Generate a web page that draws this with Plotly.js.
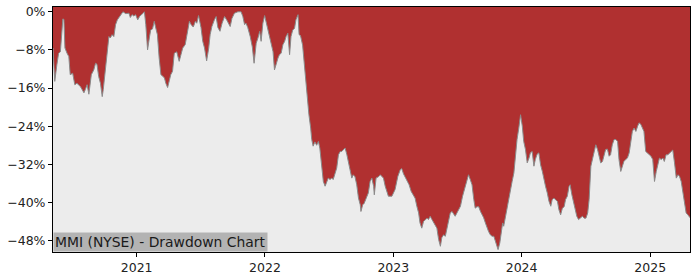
<!DOCTYPE html>
<html>
<head>
<meta charset="utf-8">
<script src="https://cdn.plot.ly/plotly-3.0.1.min.js"></script>
<style>html,body{margin:0;padding:0;background:#fff;}#chart{width:700px;height:280px;}</style>
</head>
<body>
<div id="chart"></div>
<script>
// Drawdown (%) of MMI (NYSE)
const dates2020 = ["2020-05-08","2020-05-13","2020-05-19","2020-05-24","2020-05-29","2020-06-03","2020-06-05","2020-06-08","2020-06-11","2020-06-17","2020-06-22","2020-06-26","2020-07-03","2020-07-09","2020-07-15","2020-07-25","2020-08-04","2020-08-08","2020-08-13","2020-08-18","2020-08-25","2020-09-01","2020-09-06","2020-09-10","2020-09-15","2020-09-20","2020-09-25","2020-09-28","2020-10-02","2020-10-09","2020-10-14","2020-10-18","2020-10-23","2020-10-28","2020-11-02","2020-11-07","2020-11-16","2020-11-23","2020-12-01","2020-12-10","2020-12-14","2020-12-19","2020-12-24","2020-12-29"];
const dd2020 = [-7.6,-14.6,-11.1,-8.7,-8.4,-4.1,-1.5,-1.6,-7.6,-8.7,-9.4,-13.2,-12.9,-15.3,-15.0,-15.7,-17.0,-16.3,-15.3,-17.3,-13.2,-12.2,-10.8,-11.0,-13.6,-15.0,-17.8,-16.3,-13.6,-8.4,-5.2,-5.5,-4.8,-5.2,-2.7,-1.7,-0.6,0,-0.4,-0.3,-1.2,-0.6,-0.9,-0.6];

const dates2021 = ["2021-01-04","2021-01-10","2021-01-18","2021-01-23","2021-01-27","2021-02-01","2021-02-06","2021-02-10","2021-02-15","2021-02-20","2021-02-25","2021-03-01","2021-03-06","2021-03-11","2021-03-16","2021-03-21","2021-03-25","2021-03-30","2021-04-04","2021-04-08","2021-04-13","2021-04-18","2021-04-25","2021-05-02","2021-05-07","2021-05-12","2021-05-19","2021-05-26","2021-05-31","2021-06-05","2021-06-11","2021-06-17","2021-06-21","2021-06-26","2021-07-03","2021-07-08","2021-07-13","2021-07-19","2021-07-25","2021-07-29","2021-08-03","2021-08-10","2021-08-15","2021-08-20","2021-08-26","2021-09-01","2021-09-08","2021-09-14","2021-09-20","2021-09-24","2021-09-29","2021-10-06","2021-10-16","2021-10-25","2021-10-30","2021-11-04","2021-11-08","2021-11-13","2021-11-20","2021-11-26","2021-12-01","2021-12-07","2021-12-12","2021-12-17","2021-12-21","2021-12-26","2021-12-31"];
const dd2021 = [-1.7,-0.9,-0.4,0,-2.7,-8.0,-5.5,-3.8,-3.6,-2.0,-3.6,-4.8,-9.7,-13.2,-13.5,-13.9,-15.0,-15.9,-14.4,-13.2,-12.5,-8.7,-8.4,-10.4,-9.0,-7.6,-6.9,-3.8,-2.0,-2.7,-3.2,-2.0,-2.4,-0.8,-3.3,-6.2,-7.6,-10.3,-7.6,-4.8,-3.1,-1.7,-1.0,-3.3,-4.1,-2.4,-1.0,-1.7,-2.4,-3.1,-1.4,-0.3,0,0,-1.0,-2.7,-2.4,-3.3,-5.2,-7.4,-10.8,-6.6,-5.5,-4.1,-6.2,-2.4,-0.8];

const dates2022 = ["2022-01-04","2022-01-09","2022-01-14","2022-01-19","2022-01-24","2022-01-28","2022-02-02","2022-02-07","2022-02-11","2022-02-16","2022-02-21","2022-02-26","2022-03-02","2022-03-07","2022-03-12","2022-03-16","2022-03-21","2022-03-26","2022-03-30","2022-04-05","2022-04-08","2022-04-12","2022-04-18","2022-04-22","2022-04-26","2022-05-01","2022-05-06","2022-05-11","2022-05-14","2022-05-18","2022-05-23","2022-05-28","2022-06-02","2022-06-06","2022-06-11","2022-06-16","2022-06-21","2022-06-26","2022-06-30","2022-07-05","2022-07-10","2022-07-14","2022-07-19","2022-07-24","2022-07-29","2022-08-03","2022-08-07","2022-08-12","2022-08-17","2022-08-22","2022-08-26","2022-08-31","2022-09-05","2022-09-09","2022-09-14","2022-09-19","2022-09-24","2022-09-29","2022-10-01","2022-10-06","2022-10-10","2022-10-16","2022-10-22","2022-10-27","2022-11-01","2022-11-06","2022-11-08","2022-11-13","2022-11-20","2022-11-25","2022-11-30","2022-12-04","2022-12-09","2022-12-14","2022-12-18","2022-12-23","2022-12-28"];
const dd2022 = [-2.1,-3.8,-4.8,-6.6,-8.4,-12.2,-10.8,-9.7,-9.0,-8.7,-6.9,-6.2,-5.2,-4.5,-9.0,-5.2,-3.8,-3.5,-1.7,-0.6,-4.8,-5.0,-7.0,-10.4,-14.6,-19.1,-21.6,-24.4,-26.8,-28.2,-27.3,-28.0,-27.2,-28.6,-32.1,-35.6,-36.6,-35.6,-34.9,-35.2,-34.9,-35.2,-34.2,-32.8,-30.0,-29.3,-29.3,-29.0,-28.6,-30.0,-31.4,-32.8,-34.9,-34.2,-34.6,-36.3,-39.1,-40.5,-41.9,-40.5,-40.2,-39.1,-38.0,-35.6,-34.9,-36.6,-38.4,-34.9,-34.6,-34.2,-34.6,-34.9,-36.6,-37.7,-38.7,-38.7,-38.7];

const dates2023 = ["2023-01-06","2023-01-14","2023-01-21","2023-01-25","2023-01-30","2023-02-06","2023-02-11","2023-02-15","2023-02-21","2023-02-27","2023-03-04","2023-03-09","2023-03-14","2023-03-18","2023-03-23","2023-03-28","2023-04-02","2023-04-07","2023-04-11","2023-04-16","2023-04-21","2023-04-26","2023-04-30","2023-05-05","2023-05-10","2023-05-15","2023-05-19","2023-05-24","2023-05-29","2023-06-03","2023-06-07","2023-06-12","2023-06-17","2023-06-22","2023-06-26","2023-07-01","2023-07-11","2023-07-17","2023-07-25","2023-07-30","2023-08-03","2023-08-08","2023-08-13","2023-08-18","2023-08-22","2023-08-27","2023-09-01","2023-09-06","2023-09-11","2023-09-15","2023-09-20","2023-09-25","2023-09-29","2023-10-04","2023-10-09","2023-10-14","2023-10-19","2023-10-23","2023-10-26","2023-10-31","2023-11-04","2023-11-08","2023-11-11","2023-11-16","2023-11-21","2023-11-26","2023-11-30","2023-12-05","2023-12-10","2023-12-15","2023-12-19","2023-12-24","2023-12-29"];
const dd2023 = [-37.3,-34.5,-33.1,-32.9,-34.0,-34.9,-35.6,-36.3,-37.7,-38.4,-39.1,-40.8,-42.2,-44.3,-45.4,-44.0,-43.6,-43.3,-43.6,-42.9,-43.6,-44.3,-44.7,-45.4,-47.8,-49.2,-47.4,-46.8,-47.1,-45.4,-43.6,-42.2,-41.9,-42.6,-42.9,-42.2,-40.8,-38.7,-36.6,-35.2,-34.2,-35.2,-36.3,-39.4,-41.2,-40.9,-40.9,-41.9,-42.6,-43.2,-44.3,-45.4,-46.1,-46.8,-47.1,-47.1,-48.2,-48.9,-49.9,-48.5,-46.0,-44.3,-45.0,-42.9,-40.8,-38.7,-37.3,-35.6,-33.8,-29.6,-26.8,-24.4,-21.6];

const dates2024 = ["2024-01-03","2024-01-07","2024-01-12","2024-01-17","2024-01-22","2024-01-26","2024-01-31","2024-02-05","2024-02-09","2024-02-14","2024-02-19","2024-02-24","2024-02-29","2024-03-04","2024-03-09","2024-03-14","2024-03-19","2024-03-24","2024-03-28","2024-04-02","2024-04-07","2024-04-12","2024-04-16","2024-04-21","2024-04-26","2024-05-01","2024-05-05","2024-05-10","2024-05-15","2024-05-18","2024-05-23","2024-05-28","2024-06-02","2024-06-06","2024-06-11","2024-06-17","2024-06-22","2024-06-27","2024-07-02","2024-07-07","2024-07-11","2024-07-16","2024-07-21","2024-07-25","2024-07-30","2024-08-04","2024-08-08","2024-08-13","2024-08-18","2024-08-23","2024-08-27","2024-09-01","2024-09-06","2024-09-10","2024-09-15","2024-09-20","2024-09-25","2024-09-30","2024-10-04","2024-10-09","2024-10-14","2024-10-18","2024-10-23","2024-10-28","2024-11-02","2024-11-06","2024-11-11","2024-11-16","2024-11-21","2024-11-26","2024-11-30","2024-12-05","2024-12-10","2024-12-14","2024-12-19","2024-12-24","2024-12-29"];
const dd2024 = [-24.0,-27.2,-28.9,-31.7,-30.7,-29.6,-29.3,-32.4,-31.0,-29.9,-29.6,-32.1,-33.5,-35.2,-36.6,-38.0,-39.8,-40.8,-39.4,-39.1,-39.4,-39.8,-41.5,-42.6,-41.2,-40.9,-39.4,-38.7,-36.6,-36.3,-38.4,-40.1,-41.5,-42.9,-43.6,-43.3,-42.9,-43.3,-43.3,-42.2,-39.4,-32.4,-30.7,-29.6,-27.9,-28.9,-30.3,-31.7,-31.4,-30.0,-28.9,-28.8,-30.3,-30.0,-27.9,-26.8,-26.8,-27.2,-31.0,-33.5,-32.1,-31.4,-31.0,-30.7,-29.6,-27.9,-25.1,-24.4,-25.1,-24.0,-23.3,-23.6,-24.4,-25.1,-29.3,-29.6,-30.0];

const dates2025 = ["2025-01-03","2025-01-08","2025-01-13","2025-01-18","2025-01-23","2025-01-27","2025-02-01","2025-02-06","2025-02-10","2025-02-15","2025-02-20","2025-02-25","2025-03-01","2025-03-06","2025-03-11","2025-03-16","2025-03-21","2025-03-25","2025-03-30","2025-04-04","2025-04-08","2025-04-13","2025-04-18","2025-04-22","2025-04-24"];
const dd2025 = [-30.3,-31.0,-35.6,-33.5,-31.7,-30.7,-31.0,-30.7,-31.4,-30.0,-30.0,-29.6,-29.3,-29.0,-31.7,-34.9,-34.2,-34.5,-35.6,-38.0,-40.8,-42.2,-42.6,-42.9,-43.2];

const yTickVals = [0,-8,-16,-24,-32,-40,-48];
const yTickText = yTickVals.map(v => (v < 0 ? '\u2212' + Math.abs(v) : String(v)) + '%');
const chartLabel = "MMI (NYSE) - Drawdown Chart";

const dates = [].concat(dates2020,dates2021,dates2022,dates2023,dates2024,dates2025);
const drawdown = [].concat(dd2020,dd2021,dd2022,dd2023,dd2024,dd2025);

const yRange = [-50.4, 1.0];
const xRange = [dates[0], dates[dates.length-1]];

const floor = dates.map(() => yRange[0] - 5);

const traces = [
  {x: dates, y: floor, type: 'scatter', mode: 'lines', line: {width: 0, color: 'rgba(0,0,0,0)'}, hoverinfo: 'skip', showlegend: false},
  {x: dates, y: drawdown, type: 'scatter', mode: 'lines', fill: 'tonexty', fillcolor: '#ececec',
   line: {color: '#8a8a8a', width: 1}, showlegend: false}
];

const tickFont = {family: 'DejaVu Sans', size: 12.5, color: '#222'};

const layout = {
  width: 700, height: 280,
  margin: {l: 53, r: 10, t: 7, b: 28, pad: 0},
  paper_bgcolor: '#ffffff',
  plot_bgcolor: '#b03030',
  showlegend: false,
  xaxis: {
    type: 'date', range: xRange, showgrid: false, zeroline: false,
    tick0: '2021-01-01', dtick: 'M12', tickformat: '%Y',
    ticks: 'outside', ticklen: 4, tickcolor: '#000', tickwidth: 1,
    showline: true, linecolor: '#000', linewidth: 1, mirror: true,
    tickfont: tickFont
  },
  yaxis: {
    range: yRange, showgrid: false, zeroline: false,
    tickmode: 'array', tickvals: yTickVals, ticktext: yTickText,
    ticks: 'outside', ticklen: 4, tickcolor: '#000', tickwidth: 1,
    showline: true, linecolor: '#000', linewidth: 1, mirror: true,
    tickfont: tickFont
  },
  annotations: [{
    xref: 'paper', yref: 'paper', x: 0, y: 0, xanchor: 'left', yanchor: 'bottom',
    text: chartLabel, showarrow: false, bgcolor: '#b3b3b3', borderpad: 1,
    font: {family: 'DejaVu Sans', size: 13.9, color: '#1a1a1a'}
  }]
};

Plotly.newPlot('chart', traces, layout, {staticPlot: true, displayModeBar: false});
</script>
</body>
</html>
